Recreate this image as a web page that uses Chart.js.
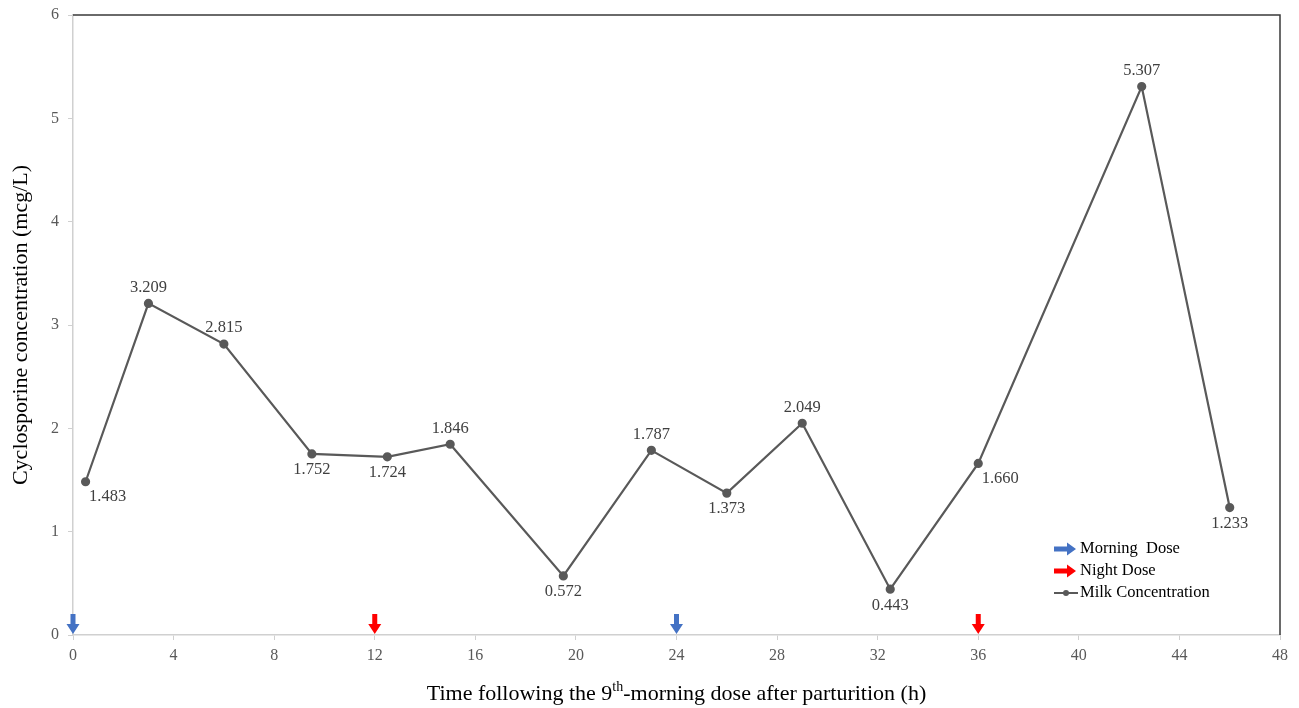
<!DOCTYPE html>
<html>
<head>
<meta charset="utf-8">
<script src="https://cdn.jsdelivr.net/npm/chart.js@4"></script>
<style>
  html, body { margin: 0; padding: 0; background: #fff; }
  #wrap { width: 1299px; height: 708px; }
</style>
</head>
<body>
<div id="wrap"><canvas id="myChart" width="1299" height="708"></canvas></div>
<script>
// sampling times (h) and milk concentrations (mcg/L)
const times = [0.5, 3, 6, 9.5, 12.5, 15, 19.5, 23, 26, 29, 32.5, 36, 42.5, 46];
const milkConc = [1.483, 3.209, 2.815, 1.752, 1.724, 1.846, 0.572, 1.787, 1.373, 2.049, 0.443, 1.660, 5.307, 1.233];
const morningDoses = [0, 24];
const nightDoses = [12, 36];
const xTicks = [0, 4, 8, 12, 16, 20, 24, 28, 32, 36, 40, 44, 48];
const yTicks = [0, 1, 2, 3, 4, 5, 6];

// where each value label sits relative to its point
const labelSpots = ['br', 'a', 'a', 'b', 'b', 'a', 'b', 'a', 'b', 'a', 'b', 'br', 'a', 'b'];

const SERIF = '"Liberation Serif", "Times New Roman", serif';
const BLUE = '#4472c4';
const RED = '#ff0000';
const LINE = '#595959';

function drawArrow(ctx, x, bottom, color) {
    ctx.save();
    ctx.fillStyle = color;
    ctx.beginPath();
    ctx.moveTo(x - 2.5, bottom - 21);
    ctx.lineTo(x + 2.5, bottom - 21);
    ctx.lineTo(x + 2.5, bottom - 11);
    ctx.lineTo(x + 6.5, bottom - 11);
    ctx.lineTo(x, bottom - 1);
    ctx.lineTo(x - 6.5, bottom - 11);
    ctx.lineTo(x - 2.5, bottom - 11);
    ctx.closePath();
    ctx.fill();
    ctx.restore();
}

function drawSideArrow(ctx, x, y, color) {
    ctx.save();
    ctx.fillStyle = color;
    ctx.beginPath();
    ctx.moveTo(x, y - 2.5);
    ctx.lineTo(x + 13, y - 2.5);
    ctx.lineTo(x + 13, y - 6.5);
    ctx.lineTo(x + 22, y);
    ctx.lineTo(x + 13, y + 6.5);
    ctx.lineTo(x + 13, y + 2.5);
    ctx.lineTo(x, y + 2.5);
    ctx.closePath();
    ctx.fill();
    ctx.restore();
}

const extras = {
    id: 'extras',
    afterDatasetsDraw(chart) {
        const ctx = chart.ctx;
        const a = chart.chartArea;
        const xs = chart.scales.x;

        // dark frame on top and right
        ctx.save();
        ctx.strokeStyle = '#3a3a3a';
        ctx.lineWidth = 1.5;
        ctx.beginPath();
        ctx.moveTo(a.left, a.top);
        ctx.lineTo(a.right, a.top);
        ctx.lineTo(a.right, a.bottom);
        ctx.stroke();
        ctx.restore();

        // dose arrows
        morningDoses.forEach(t => drawArrow(ctx, xs.getPixelForValue(t), a.bottom, BLUE));
        nightDoses.forEach(t => drawArrow(ctx, xs.getPixelForValue(t), a.bottom, RED));

        // value labels
        const meta = chart.getDatasetMeta(0);
        ctx.save();
        ctx.font = '16.5px ' + SERIF;
        ctx.fillStyle = '#404040';
        ctx.textAlign = 'center';
        ctx.textBaseline = 'middle';
        meta.data.forEach((pt, i) => {
            const txt = milkConc[i].toFixed(3);
            let dx = 0, dy = 0;
            if (labelSpots[i] === 'a') dy = -16;
            else if (labelSpots[i] === 'b') dy = 16;
            else { dx = 22; dy = 15; }
            ctx.fillText(txt, pt.x + dx, pt.y + dy);
        });
        ctx.restore();

        // legend
        ctx.save();
        ctx.font = '16.5px ' + SERIF;
        ctx.fillStyle = '#000';
        ctx.textBaseline = 'middle';
        const lx = 1054, ly = 549, gap = 22;
        drawSideArrow(ctx, lx, ly, BLUE);
        ctx.fillText('Morning  Dose', lx + 26, ly);
        drawSideArrow(ctx, lx, ly + gap, RED);
        ctx.fillText('Night Dose', lx + 26, ly + gap);
        ctx.strokeStyle = LINE;
        ctx.lineWidth = 2;
        ctx.beginPath();
        ctx.moveTo(lx, ly + 2 * gap);
        ctx.lineTo(lx + 24, ly + 2 * gap);
        ctx.stroke();
        ctx.fillStyle = LINE;
        ctx.beginPath();
        ctx.arc(lx + 12, ly + 2 * gap, 3, 0, Math.PI * 2);
        ctx.fill();
        ctx.fillStyle = '#000';
        ctx.fillText('Milk Concentration', lx + 26, ly + 2 * gap);
        ctx.restore();

        // x axis title with superscript
        ctx.save();
        ctx.fillStyle = '#000';
        ctx.textBaseline = 'alphabetic';
        const p1 = 'Time following the 9', sup = 'th', p2 = '-morning dose after parturition (h)';
        ctx.font = '22px ' + SERIF;
        const w1 = ctx.measureText(p1).width, w3 = ctx.measureText(p2).width;
        ctx.font = '14px ' + SERIF;
        const w2 = ctx.measureText(sup).width;
        const total = w1 + w2 + w3;
        let x = (a.left + a.right) / 2 - total / 2;
        const y = 700;
        ctx.textAlign = 'left';
        ctx.font = '22px ' + SERIF;
        ctx.fillText(p1, x, y);
        ctx.font = '14px ' + SERIF;
        ctx.fillText(sup, x + w1, y - 9);
        ctx.font = '22px ' + SERIF;
        ctx.fillText(p2, x + w1 + w2, y);
        ctx.restore();
    }
};

const ctx = document.getElementById('myChart');

new Chart(ctx, {
    type: 'scatter',
    data: {
        datasets: [{
            label: 'Milk Concentration',
            data: times.map((t, i) => ({ x: t, y: milkConc[i] })),
            showLine: true,
            borderColor: LINE,
            backgroundColor: LINE,
            borderWidth: 2.2,
            pointRadius: 3.5,
            pointHoverRadius: 3.5
        }]
    },
    options: {
        responsive: false,
        animation: false,
        layout: { padding: { top: 15, right: 19, left: 0, bottom: 0 } },
        plugins: {
            legend: { display: false },
            tooltip: { enabled: false }
        },
        scales: {
            x: {
                type: 'linear',
                min: 0,
                max: 48,
                afterBuildTicks: s => { s.ticks = xTicks.map(v => ({ value: v })); },
                afterFit: s => { s.height = 73; },
                border: { color: '#d0d0d0', width: 1.5 },
                grid: { drawOnChartArea: false, tickLength: 5, color: '#d0d0d0' },
                ticks: { color: '#595959', font: { family: SERIF, size: 16 }, padding: 6 }
            },
            y: {
                min: 0,
                max: 6,
                afterBuildTicks: s => { s.ticks = yTicks.map(v => ({ value: v })); },
                afterFit: s => { s.width = 73; s.paddingTop = 0; s.paddingBottom = 0; },
                border: { color: '#d0d0d0', width: 1.5 },
                grid: { drawOnChartArea: false, tickLength: 5, color: '#d0d0d0' },
                ticks: { color: '#595959', font: { family: SERIF, size: 16 }, padding: 9 },
                title: {
                    display: true,
                    text: 'Cyclosporine concentration (mcg/L)',
                    color: '#000',
                    font: { family: SERIF, size: 22 },
                    padding: { top: 8, bottom: 0 }
                }
            }
        }
    },
    plugins: [extras]
});
</script>
</body>
</html>
